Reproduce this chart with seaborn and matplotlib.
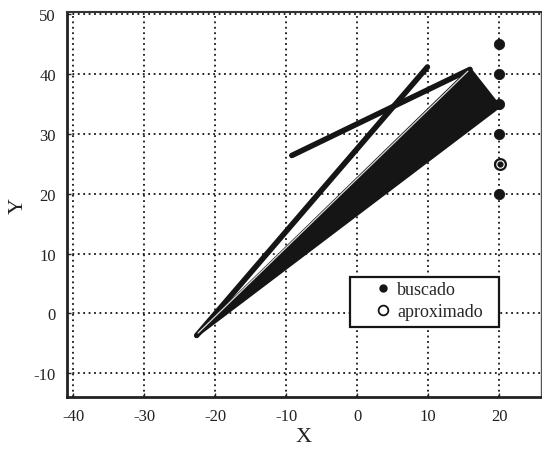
import matplotlib
matplotlib.use("Agg")
import matplotlib.pyplot as plt
from matplotlib.lines import Line2D
from matplotlib.patches import Rectangle
import seaborn as sns

# ---- data ----
arm1_x = [-22.6, 9.9]
arm1_y = [-3.7, 41.2]
arm2_x = [-9.2, 15.9]
arm2_y = [26.4, 40.8]
fan_x = [-22.7, 15.9, 20.0]
fan_y = [-3.8, 40.8, 34.6]
guide_x = [-22.4, 15.6]
guide_y = [-3.3, 40.5]
buscado_x = [20, 20, 20, 20, 20, 20]
buscado_y = [45, 40, 35, 30, 25, 20]
aprox_x = [20.15]
aprox_y = [25]
xticks = [-40, -30, -20, -10, 0, 10, 20]
yticks = [-10, 0, 10, 20, 30, 40, 50]

sns.set_theme(style="white")
plt.rcParams['font.family'] = ['Liberation Serif', 'DejaVu Serif']

W, H = 542, 452
fig = plt.figure(figsize=(W / 100, H / 100), dpi=100)
ax = fig.add_axes([67 / W, 1 - 398 / H, (541 - 67) / W, (398 - 13) / H])

# fan of arm positions
ax.fill(fan_x, fan_y, color='#151515', lw=2.5, ec='#151515', joinstyle='round', zorder=3)
sns.lineplot(x=guide_x, y=guide_y, sort=False, estimator=None, ax=ax,
             color='#d8d8d8', lw=0.9, zorder=4)
sns.lineplot(x=arm1_x, y=arm1_y, sort=False, estimator=None, ax=ax,
             color='#151515', lw=4, solid_capstyle='round', zorder=3)
sns.lineplot(x=arm2_x, y=arm2_y, sort=False, estimator=None, ax=ax,
             color='#151515', lw=4, solid_capstyle='round', zorder=3)

sns.scatterplot(x=buscado_x, y=buscado_y, ax=ax, marker='o', s=55,
                color='#151515', edgecolor='#151515', zorder=5)
sns.scatterplot(x=aprox_x, y=aprox_y, ax=ax, marker='o', s=60,
                facecolor='white', edgecolor='#151515', linewidth=1.6, zorder=6)
ax.scatter(aprox_x, aprox_y, marker='o', s=12, color='#151515', zorder=7)

ax.set_xlim(-40.87, 25.9)
ax.set_ylim(-14.0, 50.4)
ax.set_xticks(xticks)
ax.set_yticks(yticks)
ax.set_xticklabels([str(v) for v in xticks])
ax.set_yticklabels([str(v) for v in yticks])
ax.grid(True, color='#151515', linestyle=(0, (1.0, 2.0)), linewidth=1.3)
ax.set_axisbelow(True)
ax.tick_params(axis='both', direction='in', length=3, width=1, labelsize=12,
               colors='#222222', pad=8, bottom=True, left=True)

for side in ['left', 'bottom']:
    ax.spines[side].set_linewidth(2)
    ax.spines[side].set_color('#222222')
ax.spines['top'].set_linewidth(1.5)
ax.spines['top'].set_color('#333333')
ax.spines['right'].set_linewidth(1)
ax.spines['right'].set_color('#555555')

ax.set_xlabel('X', fontsize=16, color='#222222', labelpad=2)
ax.set_ylabel('Y', fontsize=16, color='#222222', labelpad=4, rotation=90)

# legend box
ax.add_patch(Rectangle((350 / W, 1 - 328 / H), 149 / W, 50 / H,
                       transform=fig.transFigure, facecolor='white',
                       edgecolor='#151515', lw=1.6, zorder=8))
handles = [Line2D([], [], ls='none', marker='o', ms=5, color='#151515',
                  markeredgecolor='#151515'),
           Line2D([], [], ls='none', marker='o', ms=7, markerfacecolor='white',
                  markeredgecolor='#151515', markeredgewidth=1.3)]
leg = ax.legend(handles, ['buscado', 'aproximado'], loc='upper left',
                bbox_to_anchor=(370.5 / W, 1 - 282 / H),
                bbox_transform=fig.transFigure, fontsize=13,
                frameon=False, handletextpad=0.08, borderpad=0,
                labelspacing=0.3, handlelength=1.4, borderaxespad=0)
leg.set_zorder(10)

fig.savefig('out.png', dpi=100)
